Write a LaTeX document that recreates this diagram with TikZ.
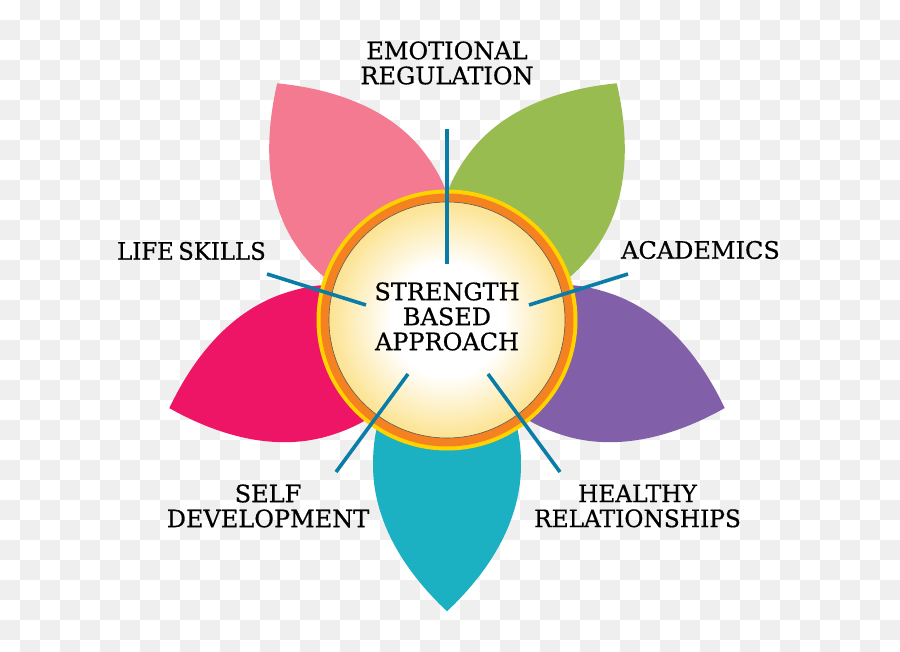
\documentclass[tikz,border=0pt]{standalone}
\usepackage{fontspec}
\setmainfont[RawFeature={embolden=0.6}]{DejaVu Serif}
\definecolor{checkgray}{HTML}{EFEFEF}
\definecolor{petalrose}{HTML}{F47A92}
\definecolor{petalmagenta}{HTML}{EF1566}
\definecolor{petalgreen}{HTML}{98BC50}
\definecolor{petalpurple}{HTML}{8160A9}
\definecolor{petalteal}{HTML}{1BB0C2}
\definecolor{ringyellow}{HTML}{FFD200}
\definecolor{ringorange}{HTML}{F58220}
\definecolor{spokeblue}{HTML}{0A7CA8}
\definecolor{discedge}{HTML}{FCE391}
\pgfdeclareradialshading{discglow}{\pgfpoint{0bp}{0bp}}{color(0bp)=(white); color(12bp)=(white); color(25bp)=(discedge); color(50bp)=(discedge)}
\tikzset{
    label/.style = {font=\fontsize{24}{25}\selectfont, align=center, inner sep=0pt, text=black},
    narrow/.style = {transform shape, xscale=#1},
    spoke/.style = {draw=spokeblue, line width=3.6pt}
}
\begin{document}
\begin{tikzpicture}[x=1pt, y=-1pt]
    \useasboundingbox (0,0) rectangle (900,652);
    \fill [white] (0,0) rectangle (900,652);
    \foreach \i in {0,...,44} {
        \foreach \j in {0,...,32} {
            \pgfmathparse{int(mod(\i+\j,2))}
            \ifnum\pgfmathresult=1
                \fill [checkgray] (20*\i,20*\j) rectangle (20*\i+20,20*\j+20);
            \fi
        }
    }
    % petals, one turned copy per colour
    \foreach \ang/\col/\wide in {0/petalteal/1, 72.4/petalpurple/1.01, 144.35/petalgreen/1.07, 215.65/petalrose/1.07, 287.6/petalmagenta/1.01} {
        \begin{scope}[shift={(447,320)}, rotate=\ang, xscale=\wide]
            \fill [\col] (0,291.3) .. controls (-46,248) and (-74,198) .. (-74,145)
                .. controls (-74,120) and (-70,100) .. (-60,80) -- (60,80)
                .. controls (70,100) and (74,120) .. (74,145)
                .. controls (74,198) and (46,248) .. cycle;
        \end{scope}
    }
    \fill [ringyellow] (447,320) circle (130.5);
    \fill [ringorange] (447,320) circle (126.5);
    \node (disc) [circle, minimum size=236pt, inner sep=0pt, shading=discglow, draw=black!65, line width=0.6pt] at (447,320) {};
    \coordinate (topOut) at (447,129);
    \coordinate (topIn) at (447,264);
    \coordinate (rightOut) at (628,274);
    \coordinate (rightIn) at (529,305);
    \coordinate (leftOut) at (267,274);
    \coordinate (leftIn) at (366,305);
    \coordinate (lowLeftOut) at (336,472);
    \coordinate (lowLeftIn) at (408,374);
    \coordinate (lowRightOut) at (560,472);
    \coordinate (lowRightIn) at (488,374);
    \draw [spoke] (topOut) -- (topIn);
    \draw [spoke] (rightOut) -- (rightIn);
    \draw [spoke] (leftOut) -- (leftIn);
    \draw [spoke] (lowLeftOut) -- (lowLeftIn);
    \draw [spoke] (lowRightOut) -- (lowRightIn);
    \node (emotional) [label] at (447,63) {EMOTIONAL\\REGULATION};
    \node (academics) [label] at (700.5,250) {ACADEMICS};
    \node (lifeskills) [label, narrow=0.95] at (191.5,251) {LIFE\hspace{-3pt} SKILLS};
    \node (selfdev) [label] at (268,506) {SELF\\DEVELOPMENT};
    \node (healthy) [label, narrow=0.97] at (637.5,506) {HEALTHY\\RELATIONSHIPS};
    \node (strength) [label] at (447,316.5) {STRENGTH\\BASED\\APPROACH};
\end{tikzpicture}
\end{document}
